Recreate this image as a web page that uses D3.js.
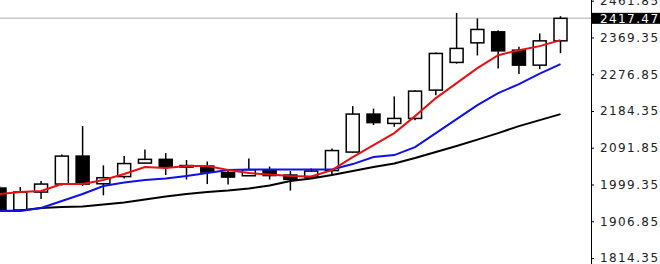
<!DOCTYPE html>
<html>
<head>
    <title>Candlestick Chart</title>
    <script src="https://d3js.org/d3.v7.min.js"></script>
    <style>
        body { margin: 0; background: #fff; }
        svg { display: block; }
        .tick text { font-family: "DejaVu Sans", Verdana, sans-serif; font-size: 12px; letter-spacing: 1.4px; fill: #222; }
        .tick line, .domain { stroke: #000; }
    </style>
</head>
<body>
    <svg width="660" height="264"></svg>

    <script>
        // candle data
        const opens  = [1990.4, 1935.1, 1980.3, 2000.4, 2070.8, 2001.2, 2019.3, 2053.2, 2062.6, 2043.2,
                        2045.7, 2029.3, 2021.3, 2034.4, 2023.1, 2018.0, 2034.4, 2080.9, 2176.5, 2153.0,
                        2165.6, 2236.8, 2306.5, 2355.8, 2383.5, 2337.4, 2299.7, 2360.8];
        const highs  = [1995.4, 1992.9, 2008.0, 2074.6, 2146.3, 2047.5, 2070.8, 2087.7, 2078.4, 2060.8,
                        2057.0, 2038.1, 2065.0, 2044.5, 2033.1, 2039.4, 2089.7, 2196.6, 2190.3, 2221.0,
                        2236.8, 2331.6, 2431.2, 2417.2, 2387.7, 2345.7, 2379.4, 2422.9];
        const lows   = [1930.0, 1930.0, 1962.7, 1996.7, 1995.4, 1972.0, 2014.3, 2052.0, 2023.1, 2011.8,
                        2000.4, 1999.2, 2020.5, 2011.8, 1984.1, 2013.0, 2023.1, 2078.4, 2148.8, 2144.5,
                        2161.3, 2224.2, 2303.5, 2324.0, 2291.4, 2277.1, 2289.6, 2329.8];
        const closes = [1935.1, 1980.3, 2000.4, 2070.8, 2000.4, 2016.3, 2052.0, 2062.6, 2044.5, 2047.0,
                        2030.6, 2018.0, 2036.4, 2021.8, 2012.3, 2033.1, 2084.7, 2176.5, 2155.1, 2165.6,
                        2234.3, 2329.1, 2341.8, 2389.5, 2335.7, 2299.7, 2360.8, 2417.47];

        // moving averages
        const maRed   = [1975.3, 1980.3, 1982.8, 2000.4, 2000.4, 2010.5, 2025.6, 2043.2, 2040.7, 2045.7,
                         2045.7, 2035.6, 2028.1, 2024.3, 2020.6, 2019.3, 2035.6, 2068.3, 2098.5, 2128.7,
                         2171.4, 2216.7, 2254.4, 2292.2, 2324.8, 2337.4, 2347.5, 2362.6];
        const maBlue  = [1932.5, 1932.5, 1940.1, 1957.7, 1975.3, 1995.4, 2004.2, 2010.5, 2014.3, 2020.6,
                         2028.1, 2035.6, 2036.9, 2036.9, 2036.9, 2036.9, 2036.9, 2050.7, 2068.3, 2073.4,
                         2093.5, 2128.7, 2163.9, 2199.1, 2229.2, 2251.9, 2278.3, 2302.2];
        const maBlack = [1932.5, 1933.8, 1940.1, 1942.6, 1943.9, 1948.9, 1953.9, 1961.5, 1969.0, 1975.3,
                         1980.3, 1984.1, 1989.1, 1996.7, 2008.0, 2014.3, 2023.1, 2033.1, 2043.2, 2052.0,
                         2065.8, 2080.9, 2096.0, 2112.3, 2128.7, 2146.3, 2161.4, 2176.5];

        const yTicks = [1814.35, 1906.85, 1999.35, 2091.85, 2184.35, 2276.85, 2369.35, 2461.85];
        const lastPrice = 2417.47;

        const svg = d3.select("svg");
        const plotRight = 591;

        const x = d3.scaleLinear().domain([0, 27]).range([-0.5, 560.5]);
        const y = d3.scaleLinear().domain([1814.35, 2461.85]).range([258, 0.7]);

        svg.append("clipPath").attr("id", "plot")
            .append("rect").attr("x", 0).attr("y", 0).attr("width", plotRight).attr("height", 264);

        const plot = svg.append("g").attr("clip-path", "url(#plot)");

        // last price line
        plot.append("line")
            .attr("x1", 0).attr("x2", plotRight)
            .attr("y1", y(lastPrice)).attr("y2", y(lastPrice))
            .attr("stroke", "#c8c8c8").attr("stroke-width", 1.5);

        const candles = opens.map((o, i) => ({ i: i, o: o, h: highs[i], l: lows[i], c: closes[i] }));
        const bodyW = 13;

        // wicks
        plot.selectAll(".wick")
            .data(candles)
            .enter().append("line")
            .attr("class", "wick")
            .attr("x1", d => x(d.i)).attr("x2", d => x(d.i))
            .attr("y1", d => y(d.h)).attr("y2", d => y(d.l))
            .attr("stroke", "#000").attr("stroke-width", 1.5);

        // bodies
        plot.selectAll(".body")
            .data(candles)
            .enter().append("rect")
            .attr("class", "body")
            .attr("x", d => x(d.i) - bodyW / 2)
            .attr("width", bodyW)
            .attr("y", d => y(Math.max(d.o, d.c)))
            .attr("height", d => Math.max(1, Math.abs(y(d.o) - y(d.c))))
            .attr("fill", d => d.c >= d.o ? "#fff" : "#000")
            .attr("stroke", "#000").attr("stroke-width", 1.5);

        // moving average lines
        const line = d3.line().x((d, i) => x(i)).y(d => y(d));
        [[maBlack, "#000"], [maBlue, "#1010e8"], [maRed, "#e81010"]].forEach(([vals, col]) => {
            plot.append("path")
                .datum(vals)
                .attr("d", line)
                .attr("fill", "none")
                .attr("stroke", col)
                .attr("stroke-width", 2);
        });

        // price axis on the right
        const axis = svg.append("g")
            .attr("transform", `translate(${plotRight},0)`)
            .call(d3.axisRight(y).tickValues(yTicks).tickSize(3).tickSizeOuter(0).tickPadding(6)
                .tickFormat(d3.format(".2f")));
        axis.select(".domain").attr("d", "M0.5,0V264");

        // last price tag
        const tag = svg.append("g").attr("transform", `translate(${plotRight + 1},${y(lastPrice)})`);
        tag.append("rect")
            .attr("x", 0).attr("y", -5.5).attr("width", 68).attr("height", 11)
            .attr("fill", "#000");
        tag.append("text")
            .attr("x", 8).attr("dy", "0.35em")
            .style("font-family", "'DejaVu Sans', Verdana, sans-serif")
            .style("font-size", "12px")
            .style("letter-spacing", "1.4px")
            .attr("fill", "#fff")
            .text(lastPrice.toFixed(2));
    </script>
</body>
</html>
